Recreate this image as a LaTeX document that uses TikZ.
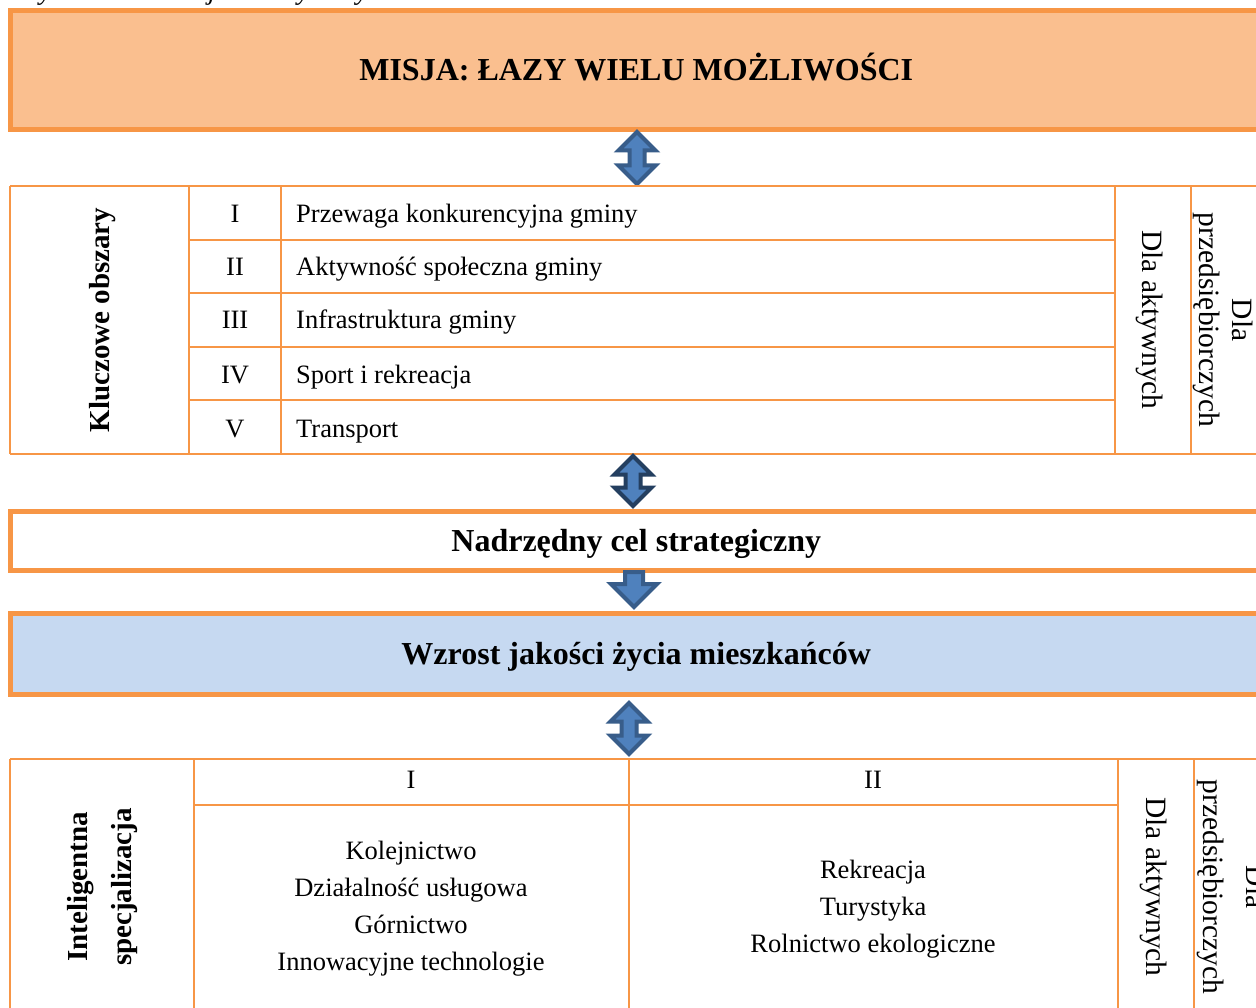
\documentclass[tikz,border=0pt]{standalone}
\usepackage{fontspec}
\setmainfont{Liberation Serif}
\usetikzlibrary{shapes.arrows}

\definecolor{orangeline}{HTML}{F79646}
\definecolor{missionfill}{HTML}{FABF8F}
\definecolor{goalfill}{HTML}{C6D9F1}
\definecolor{arrowfill}{HTML}{4F81BD}
\definecolor{arrowedge}{HTML}{385D8A}
\definecolor{arrowdark}{HTML}{243F60}

\begin{document}
\begin{tikzpicture}[line join=miter,x=1pt,y=-1pt]
  \tikzset{
  % thick orange frame of the wide boxes
  banner/.style={draw=orangeline, line width=5pt, minimum width=1251.5pt, inner sep=0pt,
    font=\bfseries\fontsize{32}{38}\selectfont, text height=21pt, text depth=0pt},
  % thin orange lines of the two tables
  rule/.style={draw=orangeline, line width=1.5pt},
  cell/.style={font=\fontsize{26.5}{33}\selectfont, inner sep=0pt},
  listcell/.style={font=\fontsize{26.5}{37}\selectfont, inner sep=0pt, align=center},
  sidecell/.style={font=\fontsize{29.5}{33}\selectfont, inner sep=0pt, align=center, rotate=-90},
  headcell/.style={font=\bfseries\fontsize{29}{44}\selectfont, inner sep=0pt, align=center, rotate=90},
  % block arrows between the parts
  twoway/.style={double arrow, double arrow head extend=11pt, inner xsep=0pt, inner ysep=5.5pt,
    minimum width=1pt, rotate=90, fill=arrowfill, draw=#1, line width=4pt},
  twoway/.default=arrowedge,
  oneway/.style={single arrow, single arrow head extend=14pt, inner xsep=0pt, inner ysep=7pt,
    minimum width=1pt, rotate=-90, fill=arrowfill, draw=arrowedge, line width=4pt},
}
\useasboundingbox (0,0) rectangle (1256,1008);
\clip (0,0) rectangle (1256,1008);

\node[font=\itshape\fontsize{27.5}{32}\selectfont, inner sep=0pt, anchor=base west] (caption) at (23,0) {Rysunek 15: Misja Gminy Łazy};

% mission
\node[banner, fill=missionfill, minimum height=119.5pt] (mission) at (636.25,70.25) {MISJA: ŁAZY WIELU MOŻLIWOŚCI};
\node[twoway, minimum height=52pt] (arr1) at (637,158) {};

% key areas
\draw[rule] (10,186) -- (1270,186);
\draw[rule] (10,454) -- (1270,454);
\draw[rule] (10,186) -- (10,454);
\draw[rule] (189,186) -- (189,454);
\draw[rule] (281,186) -- (281,454);
\draw[rule] (1115,186) -- (1115,454);
\draw[rule] (1191,186) -- (1191,454);
\draw[rule] (189,240) -- (1115,240);
\draw[rule] (189,293) -- (1115,293);
\draw[rule] (189,347) -- (1115,347);
\draw[rule] (189,400) -- (1115,400);

\node[headcell] (key) at (103,320) {Kluczowe obszary};
\node[cell, anchor=base] (k1) at (235,223) {I};
\node[cell, anchor=base] (k2) at (235,276) {II};
\node[cell, anchor=base] (k3) at (235,329) {III};
\node[cell, anchor=base] (k4) at (235,383) {IV};
\node[cell, anchor=base] (k5) at (235,437) {V};
\node[cell, anchor=base west] (area1) at (296,223) {Przewaga konkurencyjna gminy};
\node[cell, anchor=base west] (area2) at (296,276) {Aktywność społeczna gminy};
\node[cell, anchor=base west] (area3) at (296,329) {Infrastruktura gminy};
\node[cell, anchor=base west] (area4) at (296,383) {Sport i rekreacja};
\node[cell, anchor=base west] (area5) at (296,437) {Transport};
\node[sidecell] (active1) at (1150,320) {Dla aktywnych};
\node[sidecell] (firms1) at (1223.5,320) {Dla\\przedsiębiorczych};

\node[twoway=arrowdark, minimum height=50pt] (arr2) at (633,481) {};

% goal
\node[banner, fill=white, minimum height=59.5pt] (goal) at (636.25,540.75) {Nadrzędny cel strategiczny};
\node[oneway, minimum height=35pt, anchor=tail] (arr3) at (634,570) {};
\node[banner, fill=goalfill, minimum height=81.5pt] (life) at (636.25,653.75) {Wzrost jakości życia mieszkańców};
\node[twoway, minimum height=51pt] (arr4) at (629,728.5) {};

% smart specialisation
\draw[rule] (10,759) -- (1270,759);
\draw[rule] (194,805) -- (1118,805);
\draw[rule] (10,759) -- (10,1020);
\draw[rule] (194,759) -- (194,1020);
\draw[rule] (629,759) -- (629,1020);
\draw[rule] (1118,759) -- (1118,1020);
\draw[rule] (1194,759) -- (1194,1020);

\node[headcell] (smart) at (103,887) {Inteligentna\\specjalizacja};
\node[cell, anchor=base] (s1) at (411,788) {I};
\node[cell, anchor=base] (s2) at (873,788) {II};
\node[listcell] (spec1) at (411,909) {Kolejnictwo\\Działalność usługowa\\Górnictwo\\Innowacyjne technologie};
\node[listcell] (spec2) at (873,909) {Rekreacja\\Turystyka\\Rolnictwo ekologiczne};
\node[sidecell] (active2) at (1154,887) {Dla aktywnych};
\node[sidecell, font=\fontsize{29.5}{43.5}\selectfont] (firms2) at (1232,887) {Dla\\przedsiębiorczych};
\end{tikzpicture}
\end{document}
